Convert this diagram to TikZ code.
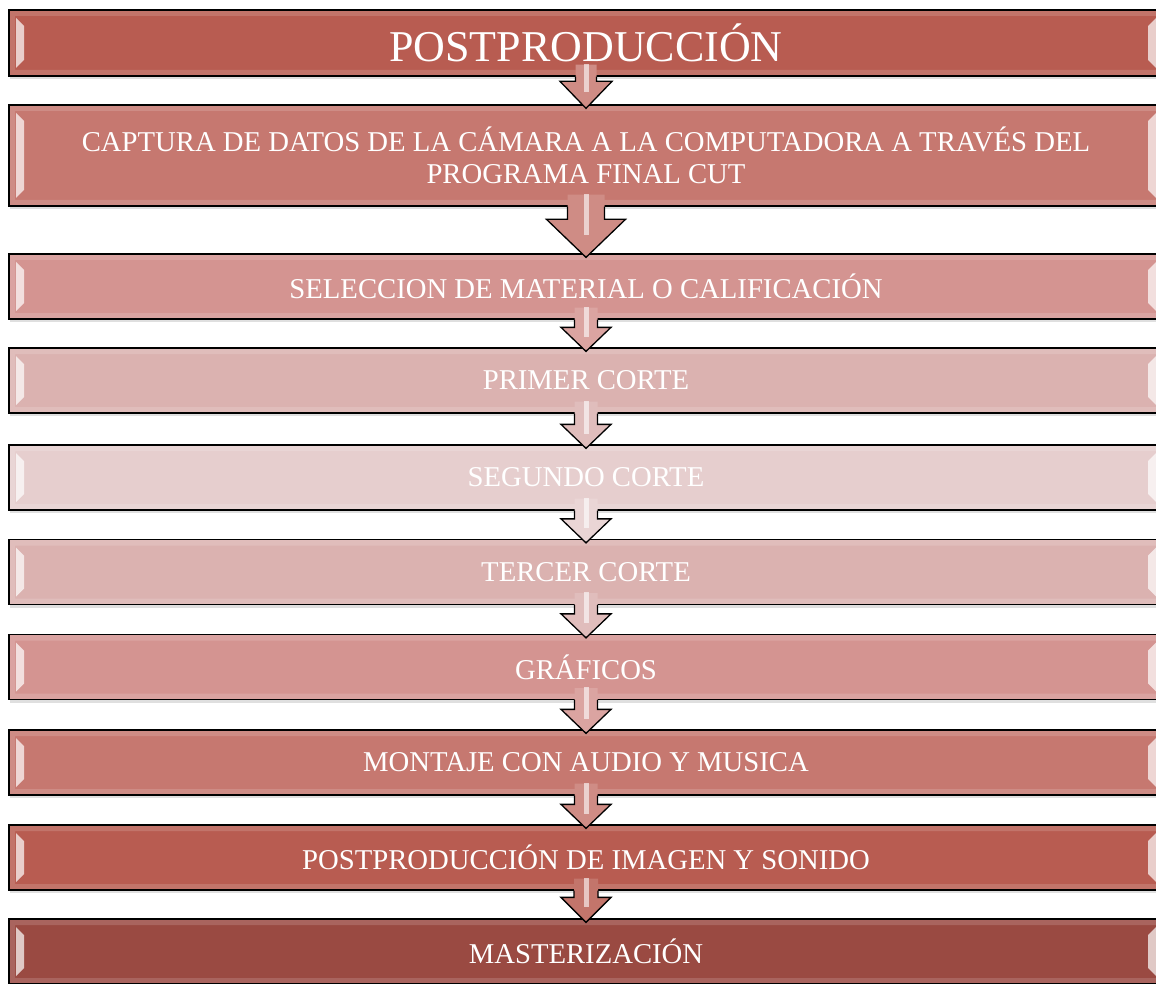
\documentclass[tikz,border=0pt]{standalone}
\usepackage{fontspec}
\setmainfont{Liberation Serif}
\usetikzlibrary{positioning,calc,shadows}

\definecolor{rojoA}{RGB}{184,92,81}
\definecolor{rojoB}{RGB}{198,120,112}
\definecolor{rojoC}{RGB}{212,148,145}
\definecolor{rojoD}{RGB}{219,178,176}
\definecolor{rojoE}{RGB}{230,206,206}
\definecolor{rojoF}{RGB}{154,74,66}

\tikzset{
  etapa/.style={draw=black, line width=1.3pt, rectangle, fill=#1, minimum width=1154pt, minimum height=65pt,
    text=white, text centered, align=center, inner sep=0pt, font=\fontsize{28.7}{32}\selectfont,
    drop shadow={shadow xshift=1pt, shadow yshift=-3pt, opacity=.25},
    path picture={
      \fill[white, opacity=.15, even odd rule] (path picture bounding box.south west) rectangle (path picture bounding box.north east)
        ([shift={(6pt,6pt)}]path picture bounding box.south west) rectangle ([shift={(-6pt,-6pt)}]path picture bounding box.north east);
      \fill[white, opacity=.7] ([shift={(7pt,-8pt)}]path picture bounding box.north west) -- ([shift={(15pt,-16pt)}]path picture bounding box.north west)
        -- ([shift={(15pt,16pt)}]path picture bounding box.south west) -- ([shift={(7pt,8pt)}]path picture bounding box.south west) -- cycle;
      \fill[white, opacity=.7] ([shift={(-7pt,-8pt)}]path picture bounding box.north east) -- ([shift={(-15pt,-16pt)}]path picture bounding box.north east)
        -- ([shift={(-15pt,16pt)}]path picture bounding box.south east) -- ([shift={(-7pt,8pt)}]path picture bounding box.south east) -- cycle;
    }}
}

% from, to, colour, half shaft, half head, head length
\newcommand{\flecha}[6]{
  \fill[#3!85!white] let \p1=(#1.south), \p2=(#2.north) in
    (\x1-#4pt,\y1+12pt) -- (\x1-#4pt,\y2-4pt+#6pt) -- (\x1-#5pt,\y2-4pt+#6pt) -- (\x1,\y2-4pt)
    -- (\x1+#5pt,\y2-4pt+#6pt) -- (\x1+#4pt,\y2-4pt+#6pt) -- (\x1+#4pt,\y1+12pt) -- cycle;
  \fill[white, opacity=.6] let \p1=(#1.south), \p2=(#2.north) in
    (\x1-2pt,\y1+13pt) rectangle (\x1+3pt,\y2-4pt+#6pt*0.6);
  \draw[line width=1.3pt] let \p1=(#1.south), \p2=(#2.north) in
    (\x1-#4pt,\y1) -- (\x1-#4pt,\y2-4pt+#6pt) -- (\x1-#5pt,\y2-4pt+#6pt) -- (\x1,\y2-4pt)
    -- (\x1+#5pt,\y2-4pt+#6pt) -- (\x1+#4pt,\y2-4pt+#6pt) -- (\x1+#4pt,\y1);
}

\begin{document}
\begin{tikzpicture}[x=1pt, y=-1pt]
\useasboundingbox (0,0) rectangle (1156,984);

\node (post) [etapa=rojoA, minimum height=66pt, font=\fontsize{44}{48}\selectfont] at (586,43) {POSTPRODUCCIÓN};
\node (captura) [etapa=rojoB, minimum height=101pt, below of=post, node distance=112.5pt] {CAPTURA DE DATOS DE LA CÁMARA A LA COMPUTADORA A TRAVÉS DEL\\PROGRAMA FINAL CUT};
\node (seleccion) [etapa=rojoC, below of=captura, node distance=131pt] {SELECCION DE MATERIAL O CALIFICACIÓN};
\node (primer) [etapa=rojoD, below of=seleccion, node distance=94pt] {PRIMER CORTE};
\node (segundo) [etapa=rojoE, below of=primer, node distance=97pt] {SEGUNDO CORTE};
\node (tercer) [etapa=rojoD, below of=segundo, node distance=94.5pt] {TERCER CORTE};
\node (graficos) [etapa=rojoC, below of=tercer, node distance=95pt] {GRÁFICOS};
\node (montaje) [etapa=rojoB, below of=graficos, node distance=95.5pt] {MONTAJE CON AUDIO Y MUSICA};
\node (postimg) [etapa=rojoA, below of=montaje, node distance=95pt] {POSTPRODUCCIÓN DE IMAGEN Y SONIDO};
\node (master) [etapa=rojoF, below of=postimg, node distance=94pt] {MASTERIZACIÓN};

\flecha{post}{captura}{rojoB}{10.5}{26}{27}
\flecha{captura}{seleccion}{rojoB}{18.5}{39.5}{38}
\flecha{seleccion}{primer}{rojoC}{11.5}{25}{24}
\flecha{primer}{segundo}{rojoD}{11.5}{25}{24}
\flecha{segundo}{tercer}{rojoE}{11.5}{25}{24}
\flecha{tercer}{graficos}{rojoD}{11.5}{25}{24}
\flecha{graficos}{montaje}{rojoC}{11.5}{25}{24}
\flecha{montaje}{postimg}{rojoB}{11.5}{25}{24}
\flecha{postimg}{master}{rojoA}{12}{25}{25}

\end{tikzpicture}
\end{document}
